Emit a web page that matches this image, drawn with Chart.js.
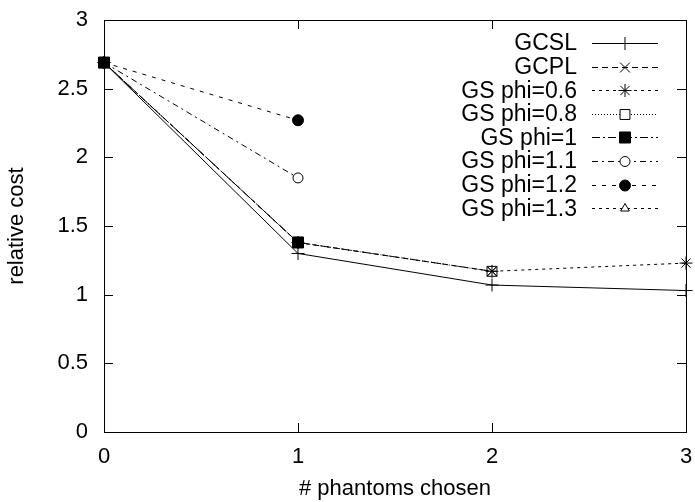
<!DOCTYPE html>
<html>
<head>
<meta charset="utf-8">
<script src="https://cdn.jsdelivr.net/npm/chart.js@4/dist/chart.umd.min.js"></script>
<style>
  html, body { margin: 0; padding: 0; background: #fff; }
  #wrap { width: 695px; height: 502px; }
</style>
</head>
<body>
<div id="wrap"><canvas id="cost_chart"></canvas></div>
<script>
// x positions (# phantoms chosen)
const phantoms = [0, 1, 2, 3];

// relative cost per series
const gcsl     = [2.69, 1.30, 1.07, 1.03];
const gcpl     = [2.69, 1.38, 1.17, null];
const phi06    = [2.69, 1.38, 1.17, 1.23];
const phi08    = [2.69, 1.38, 1.17, null];
const phi10    = [2.69, 1.38, null, null];
const phi11    = [2.69, 1.85, null, null];
const phi12    = [2.69, 2.27, null, null];
const phi13    = [2.69, null, null, null];

const seriesNames = ['GCSL', 'GCPL', 'GS phi=0.6', 'GS phi=0.8', 'GS phi=1', 'GS phi=1.1', 'GS phi=1.2', 'GS phi=1.3'];
const yTicks = [0, 0.5, 1, 1.5, 2, 2.5, 3];

const FONT = '"Liberation Sans", Arial, Helvetica, sans-serif';

function points(values) {
    return phantoms.map( ( x, i ) => ({ x: x, y: values[i] }) );
}

function series(label, values, dash, style, radius, fill, order) {
    return {
        label: label,
        data: points(values),
        order: order,
        borderColor: '#000',
        borderWidth: 1,
        borderDash: dash,
        pointStyle: style,
        pointRadius: radius,
        pointBorderWidth: 1,
        pointBorderColor: '#000',
        pointBackgroundColor: fill,
        pointHoverRadius: radius,
        fill: false,
        tension: 0,
        spanGaps: false,
        clip: false
    };
}

// lower order is drawn on top; the filled square sits over the others
const datasets = [
    series(seriesNames[0], gcsl,  [],            'cross',    6.5, '#000', 0),
    series(seriesNames[1], gcpl,  [6, 4],        'crossRot', 7,   '#000', 1),
    series(seriesNames[2], phi06, [3, 4],        'star',     6.5, '#000', 2),
    series(seriesNames[3], phi08, [1, 2],        'rect',     7,   '#fff', 3),
    series(seriesNames[4], phi10, [8, 3, 2, 3],  'rect',     7.8, '#000', -1),
    series(seriesNames[5], phi11, [6, 4, 2, 4],  'circle',   5,   '#fff', 5),
    series(seriesNames[6], phi12, [4, 6],        'circle',   5.5, '#000', 6),
    series(seriesNames[7], phi13, [3, 4],        'triangle', 5,   '#fff', 7)
];

// gnuplot-like frame with inward ticks, plus key on the right
const framePlugin = {
    id: 'frame',
    afterDatasetsDraw(chart) {
        const ctx = chart.ctx;
        const a = chart.chartArea;
        const xs = chart.scales.x, ys = chart.scales.y;
        const tl = 9;
        ctx.save();
        ctx.strokeStyle = '#000';
        ctx.lineWidth = 1;
        ctx.setLineDash([]);
        ctx.strokeRect(Math.round(a.left) + 0.5, Math.round(a.top) + 0.5,
            Math.round(a.right - a.left), Math.round(a.bottom - a.top));
        ctx.beginPath();
        yTicks.forEach( ( v ) => {
            const y = Math.round(ys.getPixelForValue(v)) + 0.5;
            ctx.moveTo(a.left, y); ctx.lineTo(a.left + tl, y);
            ctx.moveTo(a.right, y); ctx.lineTo(a.right - tl, y);
        });
        phantoms.forEach( ( v ) => {
            const x = Math.round(xs.getPixelForValue(v)) + 0.5;
            ctx.moveTo(x, a.bottom); ctx.lineTo(x, a.bottom - tl);
            ctx.moveTo(x, a.top); ctx.lineTo(x, a.top + tl);
        });
        ctx.stroke();

        // key
        const textRight = a.right - 109;
        const lineL = a.right - 94, lineR = a.right - 28, mid = (lineL + lineR) / 2;
        ctx.font = '23px ' + FONT;
        ctx.fillStyle = '#000';
        ctx.textAlign = 'right';
        ctx.textBaseline = 'middle';
        chart.data.datasets.forEach( ( ds, i ) => {
            const y = a.top + 23 + i * 23.6;
            ctx.fillText(ds.label, textRight, y + 1);
            ctx.setLineDash(ds.borderDash);
            ctx.beginPath();
            ctx.moveTo(lineL, Math.round(y) + 0.5);
            ctx.lineTo(lineR, Math.round(y) + 0.5);
            ctx.stroke();
            ctx.setLineDash([]);
            if ( Chart.helpers && Chart.helpers.drawPoint ) {
                ctx.fillStyle = ds.pointBackgroundColor;
                ctx.strokeStyle = '#000';
                Chart.helpers.drawPoint(ctx, {
                    pointStyle: ds.pointStyle,
                    radius: ds.pointRadius,
                    rotation: 0,
                    borderWidth: 1
                }, mid, Math.round(y) + 0.5);
                ctx.fillStyle = '#000';
            }
        });
        ctx.restore();
    }
};

const costCtx = document.getElementById('cost_chart');

new Chart(costCtx, {
    type: 'line',
    data: { datasets: datasets },
    options: {
        responsive: true,
        maintainAspectRatio: false,
        animation: false,
        events: [],
        layout: { padding: { left: 0, right: 9, top: 20, bottom: 0 } },
        plugins: {
            legend: { display: false },
            tooltip: { enabled: false }
        },
        scales: {
            x: {
                type: 'linear',
                min: 0,
                max: 3,
                afterFit: ( scale ) => {
                    scale.height = 70;
                    scale.paddingLeft = 0;
                    scale.paddingRight = 0;
                },
                afterBuildTicks: ( scale ) => { scale.ticks = phantoms.map( ( v ) => ({ value: v }) ); },
                grid: { display: false, drawTicks: false },
                border: { display: false },
                ticks: { color: '#000', font: { family: FONT, size: 22 }, padding: 12, maxRotation: 0,
                         callback: ( v ) => String(v) },
                title: { display: true, text: '# phantoms chosen', color: '#000',
                         font: { family: FONT, size: 22 }, padding: { top: 0, bottom: 0 } }
            },
            y: {
                type: 'linear',
                min: 0,
                max: 3,
                afterFit: ( scale ) => {
                    scale.width = 104;
                    scale.paddingTop = 0;
                    scale.paddingBottom = 0;
                },
                afterBuildTicks: ( scale ) => { scale.ticks = yTicks.map( ( v ) => ({ value: v }) ); },
                grid: { display: false, drawTicks: false },
                border: { display: false },
                ticks: { color: '#000', font: { family: FONT, size: 22 }, padding: 16,
                         callback: ( v ) => String(v) },
                title: { display: true, text: 'relative cost', color: '#000',
                         font: { family: FONT, size: 22 }, padding: { top: 4, bottom: 0 } }
            }
        }
    },
    plugins: [framePlugin]
});
</script>
</body>
</html>
